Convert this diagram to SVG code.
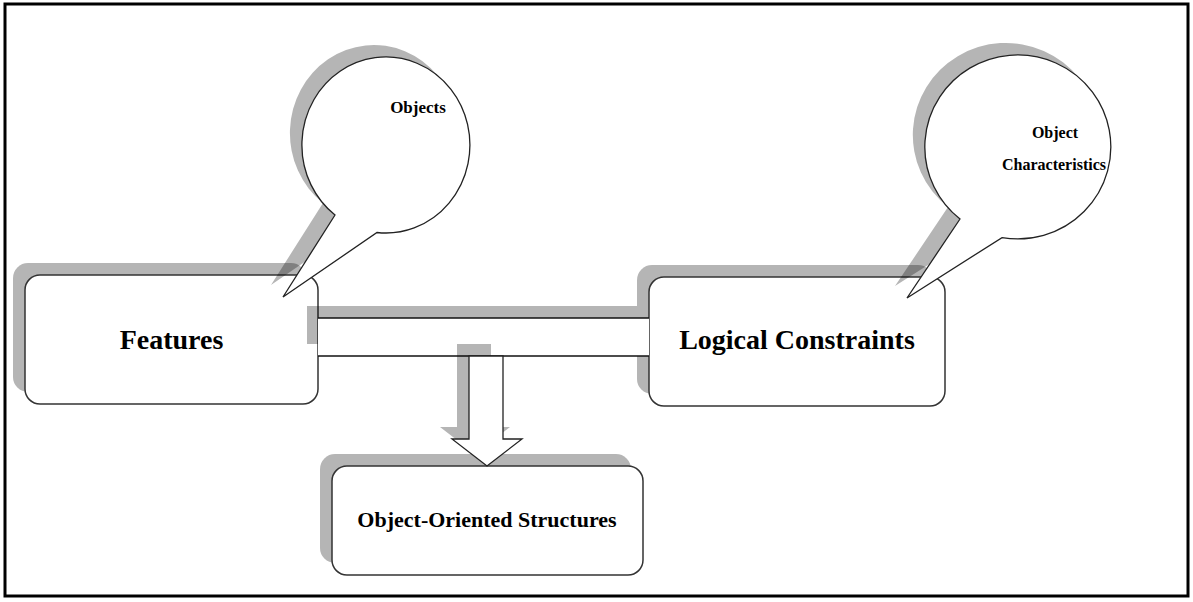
<svg xmlns="http://www.w3.org/2000/svg" width="1193" height="602" viewBox="0 0 1193 602">
<style>
.shadow{fill:#000;fill-opacity:0.29;stroke:none}
.box{fill:#fff;stroke:#333;stroke-width:1.5}
.line{stroke:#111;stroke-width:1.5;fill:none}
.bubble{fill:#fff;stroke:#222;stroke-width:1.3}
.lbl{font-family:"Liberation Serif","Times New Roman",serif;font-weight:bold;fill:#000;text-anchor:middle}
</style>
<rect x="5" y="4" width="1183" height="592" fill="#fff" stroke="#000" stroke-width="3"/>
<g id="shadows-boxes">
<rect class="shadow" x="13" y="263" width="293" height="129" rx="15"/>
<rect class="shadow" x="637" y="265" width="296" height="129" rx="15"/>
<rect class="shadow" x="320" y="454" width="311" height="109" rx="15"/>
</g>
<g id="features">
<rect class="box" x="25" y="275" width="293" height="129" rx="15"/>
<text class="lbl" x="171.5" y="349" font-size="28">Features</text>
</g>
<g id="logical-constraints">
<rect class="box" x="649" y="277" width="296" height="129" rx="15"/>
<text class="lbl" x="797" y="349" font-size="28">Logical Constraints</text>
</g>
<g id="object-oriented-structures">
<rect class="box" x="332" y="466" width="311" height="109" rx="15"/>
<text class="lbl" x="487" y="527" font-size="22">Object-Oriented Structures</text>
</g>
<g id="connectors">
<rect class="shadow" x="307" y="306" width="330" height="38"/>
<rect x="318" y="318" width="331" height="38" fill="#fff"/>
<line class="line" x1="318" y1="318" x2="649" y2="318"/>
<line class="line" x1="318" y1="356" x2="649" y2="356"/>
<polygon class="shadow" points="457,344 491,344 491,427 510,427 475,454 440,427 457,427"/>
<polygon fill="#fff" stroke="#222" stroke-width="1.3" points="469,356 503,356 503,439 522,439 487,466 452,439 469,439"/>
</g>
<g id="objects">
<path class="shadow" transform="translate(-12,-12)" d="M335,215 L283,297 L377,232.5 A84,88 0 1 0 335,215 Z"/>
<path class="bubble" d="M335,215 L283,297 L377,232.5 A84,88 0 1 0 335,215 Z"/>
<text class="lbl" x="418" y="113" font-size="17">Objects</text>
</g>
<g id="object-characteristics">
<path class="shadow" transform="translate(-12,-12)" d="M960,219 L907,298 L1002,237.6 A93,92 0 1 0 960,219 Z"/>
<path class="bubble" d="M960,219 L907,298 L1002,237.6 A93,92 0 1 0 960,219 Z"/>
<text class="lbl" x="1055" y="138" font-size="16">Object</text>
<text class="lbl" x="1054" y="170" font-size="16">Characteristics</text>
</g>
</svg>
